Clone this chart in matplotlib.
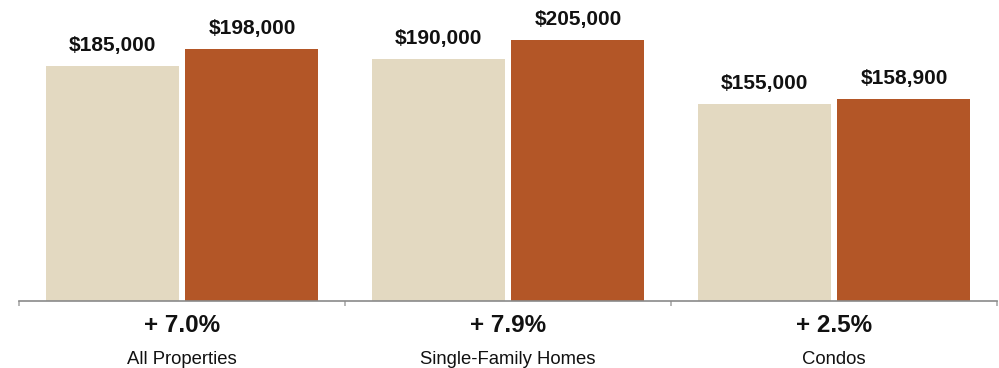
import matplotlib
matplotlib.use("Agg")
import matplotlib.pyplot as plt
import numpy as np

categories = ["All Properties", "Single-Family Homes", "Condos"]
prior_year = [185000, 190000, 155000]
current_year = [198000, 205000, 158900]
changes = ["+ 7.0%", "+ 7.9%", "+ 2.5%"]

plt.rcParams["font.family"] = ["Liberation Sans", "DejaVu Sans"]

fig = plt.figure(figsize=(9.99, 3.68), dpi=100)
ax = fig.add_axes([19 / 999, 67 / 368, 978 / 999, 301 / 368])

x = np.arange(len(categories))
w = 0.408
off = 0.2147
c_prev = "#E3D9C1"
c_curr = "#B35627"

b1 = ax.bar(x - off, prior_year, width=w, color=c_prev)
b2 = ax.bar(x + off, current_year, width=w, color=c_curr)

for bars, vals in ((b1, prior_year), (b2, current_year)):
    for rect, v in zip(bars, vals):
        ax.annotate(f"${v:,.0f}", (rect.get_x() + rect.get_width() / 2, v),
                    xytext=(0, 8), textcoords="offset points",
                    ha="center", va="bottom", fontsize=15, fontweight="bold",
                    color="#111111")

for i, (cat, ch) in enumerate(zip(categories, changes)):
    ax.annotate(ch, (i, 0), xytext=(0, -18), textcoords="offset points",
                ha="center", va="center", fontsize=17.5, fontweight="bold",
                color="#111111", annotation_clip=False)
    ax.annotate(cat, (i, 0), xytext=(0, -42), textcoords="offset points",
                ha="center", va="center", fontsize=13.3, color="#111111",
                annotation_clip=False)

ax.set_xlim(-0.5, 2.5)
ax.set_ylim(0, 236800)
for s in ("top", "left", "right"):
    ax.spines[s].set_visible(False)
ax.spines["bottom"].set_color("#8a8a8a")
ax.spines["bottom"].set_linewidth(1.2)
ax.set_yticks([])
ax.set_xticks([-0.5, 0.5, 1.5, 2.5])
ax.set_xticklabels([])
ax.tick_params(axis="x", direction="out", length=3.5, width=1.2, color="#aaaaaa")
ax.patch.set_visible(False)

fig.savefig("out.png", dpi=100, facecolor="white")
